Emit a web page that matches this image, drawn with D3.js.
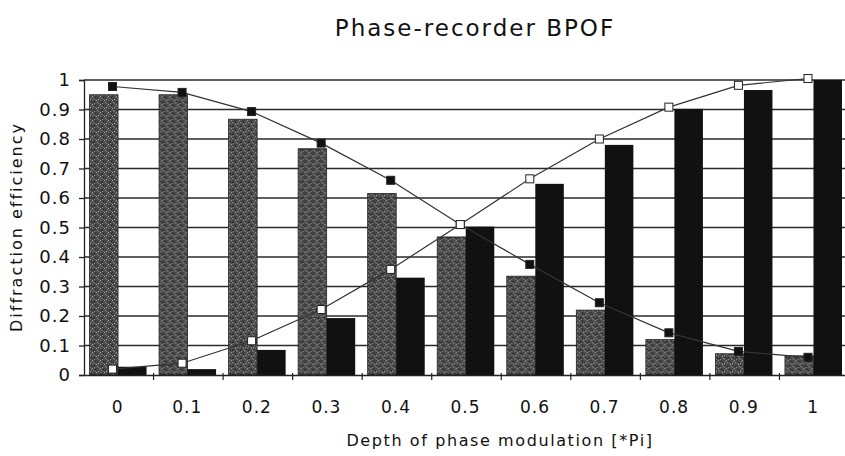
<!DOCTYPE html>
<html>
<head>
<meta charset="utf-8">
<script src="https://cdn.jsdelivr.net/npm/d3@7"></script>
<style>
  body { margin: 0; background: #fff; }
  svg { display: block; }
  text { font-family: "DejaVu Sans", sans-serif; fill: #111; }
</style>
</head>
<body>
<div id="chart"></div>
<script>
    // Data
    categories = ["0", "0.1", "0.2", "0.3", "0.4", "0.5", "0.6", "0.7", "0.8", "0.9", "1"]
    grayBars = [0.95, 0.95, 0.867, 0.767, 0.615, 0.468, 0.335, 0.22, 0.12, 0.072, 0.065]
    blackBars = [0.028, 0.02, 0.085, 0.193, 0.33, 0.503, 0.648, 0.78, 0.902, 0.966, 1.0]
    filledLine = [0.978, 0.958, 0.893, 0.786, 0.66, 0.51, 0.375, 0.245, 0.143, 0.08, 0.06]
    openLine = [0.02, 0.04, 0.116, 0.222, 0.358, 0.51, 0.665, 0.8, 0.908, 0.982, 1.005]
    yTicks = [0, 0.1, 0.2, 0.3, 0.4, 0.5, 0.6, 0.7, 0.8, 0.9, 1]

    canvas = ({width: 845, height: 456})
    margin = ({top: 80, right: -4, bottom: 81, left: 84})

    x = d3.scaleBand()
        .domain(categories)
        .range([margin.left, canvas.width - margin.right])

    x1 = d3.scaleBand()
        .domain(["gray", "black"])
        .range([5.5, x.bandwidth() - 7])

    y = d3.scaleLinear()
        .domain([0, 1])
        .range([canvas.height - margin.bottom, margin.top])

    var svg = d3.select("#chart").append("svg")
        .attr("width", canvas.width)
        .attr("height", canvas.height)

    // stipple texture for the gray bars
    var pat = svg.append("defs").append("pattern")
        .attr("id", "stipple")
        .attr("patternUnits", "userSpaceOnUse")
        .attr("width", 8).attr("height", 8)
    pat.append("rect").attr("width", 8).attr("height", 8).attr("fill", "#4a4a4a")
    var specks = [[0,0,"#a0a0a0"],[3,1,"#1e1e1e"],[1,2,"#8a8a8a"],[6,3,"#b0b0b0"],[2,5,"#262626"],[5,6,"#9a9a9a"],
                  [0,4,"#707070"],[4,0,"#333"],[7,1,"#7a7a7a"],[5,2,"#2a2a2a"],[2,7,"#888"],[7,5,"#222"],
                  [3,3,"#666"],[1,6,"#1a1a1a"],[6,7,"#777"],[4,4,"#aaa"]]
    specks.forEach(s => pat.append("rect").attr("x", s[0]).attr("y", s[1]).attr("width", 1).attr("height", 1).attr("fill", s[2]))

    // gridlines
    svg.append("g")
        .selectAll("line")
        .data(yTicks.slice(1))
        .join("line")
        .attr("x1", margin.left)
        .attr("x2", canvas.width)
        .attr("y1", d => y(d))
        .attr("y2", d => y(d))
        .attr("stroke", "#2a2a2a")
        .attr("stroke-width", 1.3)

    // bars
    var groups = svg.append("g")
        .selectAll("g")
        .data(categories)
        .join("g")
        .attr("transform", d => `translate(${x(d)},0)`)

    groups.append("rect")
        .attr("x", x1("gray"))
        .attr("width", x1.bandwidth())
        .attr("y", (d, i) => y(grayBars[i]))
        .attr("height", (d, i) => y(0) - y(grayBars[i]))
        .attr("fill", "url(#stipple)")
        .attr("stroke", "#222")
        .attr("stroke-width", 0.8)

    groups.append("rect")
        .attr("x", x1("black"))
        .attr("width", x1.bandwidth())
        .attr("y", (d, i) => y(blackBars[i]))
        .attr("height", (d, i) => y(0) - y(blackBars[i]))
        .attr("fill", "#111")

    // axes
    yAxis = g => g
        .attr("transform", `translate(${margin.left},0)`)
        .call(d3.axisLeft(y).tickValues(yTicks).tickFormat(d3.format("")).tickSize(5).tickPadding(8))
        .call(g => g.selectAll("text").attr("font-size", 18).attr("font-family", "Liberation Sans, Arial, sans-serif").style("letter-spacing", "1px"))
        .call(g => g.selectAll("line, path").attr("stroke", "#222").attr("stroke-width", 1.3))

    svg.append("g").call(yAxis)

    xAxis = g => g
        .attr("transform", `translate(0,${y(0)})`)
        .call(d3.axisBottom(x).tickSize(0).tickPadding(26).tickSizeOuter(0))
        .call(g => g.selectAll("text").attr("font-size", 17).attr("font-family", "Liberation Sans, Arial, sans-serif").style("letter-spacing", "1px").attr("dx", -1))
        .call(g => g.select(".domain").attr("stroke", "#222").attr("stroke-width", 1.3))

    svg.append("g").call(xAxis)

    // tick marks between categories
    svg.append("g")
        .selectAll("line")
        .data(categories.slice(1))
        .join("line")
        .attr("x1", d => x(d))
        .attr("x2", d => x(d))
        .attr("y1", y(0) - 2)
        .attr("y2", y(0) + 5)
        .attr("stroke", "#222")
        .attr("stroke-width", 1.2)

    // lines with square markers
    var cx = d => x(d) + x1.step()
    line = d3.line()
        .x(d => cx(d[0]))
        .y(d => y(d[1]))

    var series = [
        {vals: filledLine, fill: "#111"},
        {vals: openLine, fill: "#fff"}
    ]
    series.forEach(s => {
        var pts = categories.map((c, i) => [c, s.vals[i]])
        svg.append("path")
            .attr("fill", "none")
            .attr("stroke", "#333")
            .attr("stroke-width", 1.2)
            .attr("d", line(pts))
        svg.append("g")
            .selectAll("rect")
            .data(pts)
            .join("rect")
            .attr("x", d => cx(d[0]) - 4)
            .attr("y", d => y(d[1]) - 4)
            .attr("width", 8)
            .attr("height", 8)
            .attr("fill", s.fill)
            .attr("stroke", "#222")
            .attr("stroke-width", 1)
    })

    // titles
    svg.append("text")
        .attr("x", 475)
        .attr("y", 36)
        .attr("text-anchor", "middle")
        .attr("font-size", 23)
        .style("letter-spacing", "2px")
        .text("Phase-recorder BPOF")

    svg.append("text")
        .attr("x", 500)
        .attr("y", 446)
        .attr("text-anchor", "middle")
        .attr("font-size", 16)
        .style("letter-spacing", "1.6px")
        .text("Depth of phase modulation [*Pi]")

    svg.append("text")
        .attr("transform", `translate(22,227) rotate(-90)`)
        .attr("text-anchor", "middle")
        .attr("font-size", 16)
        .style("letter-spacing", "2px")
        .text("Diffraction  efficiency")
</script>
</body>
</html>
